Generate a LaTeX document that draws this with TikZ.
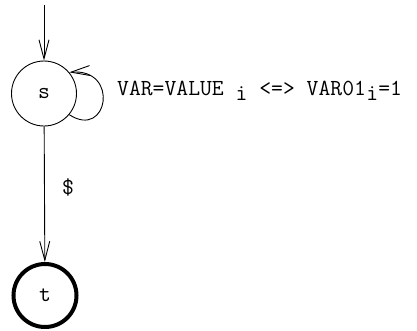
\documentclass[tikz,border=0pt]{standalone}
\usepackage{fontspec}
\usetikzlibrary{arrows.meta}
\begin{document}
\begin{tikzpicture}[x=1bp,y=-1bp,
  lbl/.style={font=\fontsize{23bp}{27bp}\selectfont\ttfamily},
  state/.style={circle,draw,line width=0.9bp,minimum size=65bp,inner sep=0pt,lbl},
  final/.style={circle,draw,line width=4bp,minimum size=63bp,inner sep=0pt,lbl},
  edge/.style={line width=0.9bp,-{Straight Barb[length=19bp,width=10bp,line width=0.9bp]}}]
\useasboundingbox (0,0) rectangle (417,331);
\node[state] (s) at (44,93.5) {s};
\node[final] (t) at (45,295.5) {t};
\coordinate (start) at (44,5);
\draw[edge] (start) -- (s);
\draw[edge] (s) -- node[lbl,right=14bp,pos=0.45] (d) {\$} (t);
\draw[edge] (s.-40) .. controls (108,140) and (120,68) .. (s.40);
\node[lbl,anchor=base west,inner sep=0pt] (l) at (117,95)
  {VAR=VALUE\ \raisebox{-5bp}{i}\ <=>\ VAR01\hspace{0.5bp}\raisebox{-5bp}{i}=1};
\end{tikzpicture}
\end{document}
